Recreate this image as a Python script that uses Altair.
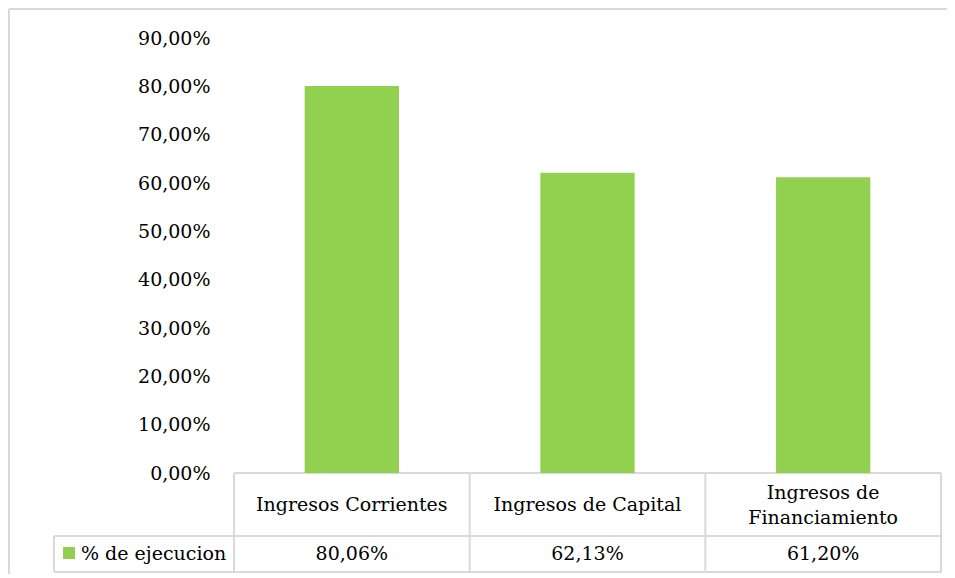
import altair as alt
import pandas as pd

categories = ["Ingresos Corrientes", "Ingresos de Capital", "Ingresos de\nFinanciamiento"]
values = [80.06, 62.13, 61.20]
series_name = "% de ejecucion"
y_ticks = [0, 10, 20, 30, 40, 50, 60, 70, 80, 90]

df = pd.DataFrame({"cat": categories, "value": values})

FONT = "DejaVu Serif"
FS = 19
GREEN = "#92D050"
LINE = "#D9D9D9"
W, H = 707, 435

xenc = alt.X("cat:N", sort=categories, axis=None,
             scale=alt.Scale(paddingInner=0.6, paddingOuter=0.3))

bars = alt.Chart(df).mark_bar(color=GREEN).encode(
    x=xenc,
    y=alt.Y("value:Q", scale=alt.Scale(domain=[0, 90]),
            axis=alt.Axis(values=y_ticks, grid=False, domain=False, ticks=False,
                          labelPadding=24, labelFont=FONT, labelFontSize=FS,
                          labelColor="#000000", title=None,
                          labelExpr="replace(format(datum.value, '.2f'), '.', ',') + '%'")),
)

cat_text1 = alt.Chart(df).transform_filter(
    "indexof(datum.cat, '\\n') < 0"
).mark_text(font=FONT, fontSize=FS, color="#000000",
            baseline="middle", align="center").encode(
    x=xenc, y=alt.value(467), text="cat:N")

cat_text2 = alt.Chart(df).transform_filter(
    "indexof(datum.cat, '\\n') >= 0"
).mark_text(font=FONT, fontSize=FS, color="#000000",
            baseline="middle", align="center",
            lineBreak="\n", lineHeight=25).encode(
    x=xenc, y=alt.value(455), text="cat:N")

val_text = alt.Chart(df).transform_calculate(
    lbl="replace(format(datum.value, '.2f'), '.', ',') + '%'"
).mark_text(font=FONT, fontSize=FS, color="#000000",
            baseline="middle", align="center").encode(
    x=xenc, y=alt.value(516), text="lbl:N")

one = alt.Data(values=[{"k": 1}])

def hrule(x1, x2, y, sw=2):
    return alt.Chart(one).mark_rule(color=LINE, strokeWidth=sw).encode(
        x=alt.value(x1), x2=alt.value(x2), y=alt.value(y))

def vrule(x, y1, y2, sw=2):
    return alt.Chart(one).mark_rule(color=LINE, strokeWidth=sw).encode(
        x=alt.value(x), y=alt.value(y1), y2=alt.value(y2))

step = W / 3.0
rules = [
    hrule(0, W, H),
    hrule(-180, W, 498),
    hrule(-180, W, 534),
    vrule(0, H, 534),
    vrule(step, H, 534),
    vrule(2 * step, H, 534),
    vrule(W, H, 534),
    vrule(-180, 498, 534),
    # outer chart border
    hrule(-225, W + 40, -29),
    vrule(-225, -29, 560),
]

swatch = alt.Chart(alt.Data(values=[{"s": series_name}])).mark_square(
    color=GREEN, size=144, opacity=1).encode(x=alt.value(-165), y=alt.value(515))

legend_text = alt.Chart(alt.Data(values=[{"s": series_name}])).mark_text(
    font=FONT, fontSize=FS, color="#000000", align="left", baseline="middle").encode(
    x=alt.value(-153), y=alt.value(516), text="s:N")

chart = alt.layer(*rules, bars, cat_text1, cat_text2, val_text, swatch, legend_text).properties(
    width=W, height=H,
    padding={"left": 226, "top": 30, "right": 6, "bottom": 101},
    autosize=alt.AutoSizeParams(type="none"),
).configure_view(stroke=None)

chart.save("out.html", embed_options={"renderer": "svg", "actions": False})
